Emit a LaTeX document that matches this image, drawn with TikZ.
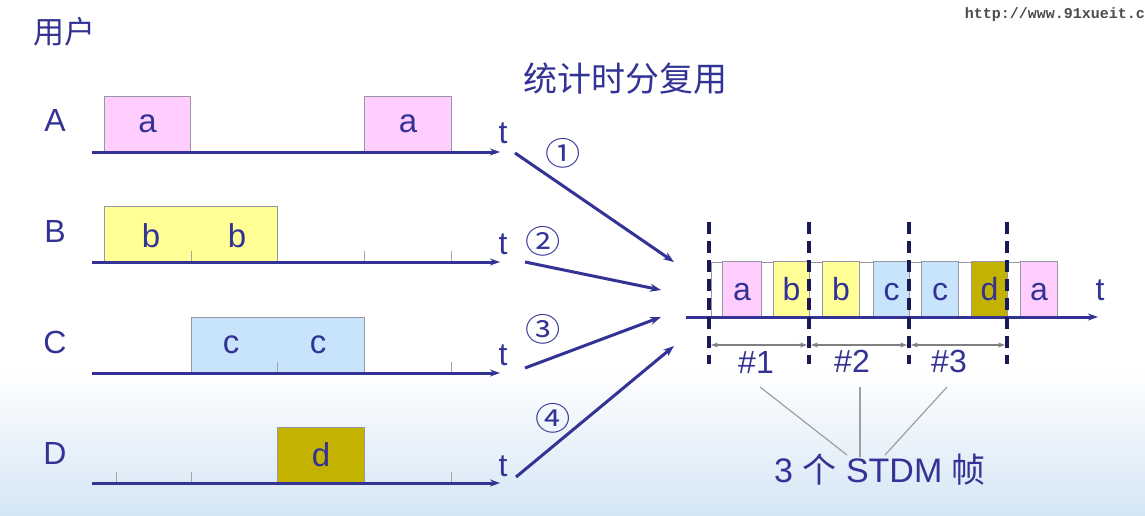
\documentclass[tikz,border=0pt]{standalone}
\usepackage{fontspec}
\setmainfont{Liberation Sans}
\newfontfamily\cjk{Noto Sans CJK SC}
\newfontfamily\monofnt{Liberation Mono}
\usetikzlibrary{arrows.meta}
\newcommand\fsz[1]{\fontsize{#1}{#1}\selectfont}
\definecolor{navy}{RGB}{51,51,150}
\definecolor{dnavy}{RGB}{25,25,85}
\definecolor{pinkf}{RGB}{255,206,255}
\definecolor{yellf}{RGB}{255,255,150}
\definecolor{bluef}{RGB}{200,228,252}
\definecolor{olivef}{RGB}{196,178,0}
\definecolor{boxline}{RGB}{150,150,165}
\definecolor{bgblue}{RGB}{212,230,245}
\tikzset{
  lbl/.style={text=navy, font=\fsz{32}, inner sep=0},
  tlbl/.style={text=navy, font=\fsz{32}, inner sep=0, anchor=base},
  slot/.style={draw=boxline, line width=1, text=navy, font=\fsz{33}, inner sep=0, anchor=south west, minimum height=55},
  pinkbox/.style={slot, fill=pinkf},
  yellbox/.style={slot, fill=yellf},
  bluebox/.style={slot, fill=bluef},
  olivebox/.style={slot, fill=olivef},
  fslot/.style={font=\fsz{32}, text height=23, text depth=0},
  axisln/.style={draw=navy, line width=3, -{Stealth[length=10pt,width=7pt]}},
  feed/.style={draw=navy, line width=3, -{Stealth[length=11pt,width=8pt]}},
  tickln/.style={draw=gray!70, line width=1},
  dashln/.style={draw=dnavy, line width=3.8, dash pattern=on 12pt off 7pt},
  dimln/.style={draw=gray, line width=1.2, {Stealth[length=7pt,width=5pt]}-{Stealth[length=7pt,width=5pt]}},
  grayln/.style={draw=gray!75, line width=1.2},
  circ/.style={text=navy, font=\cjk\fsz{32}, inner sep=0, xscale=1.1, transform shape},
}
\begin{document}
\begin{tikzpicture}[x=1pt,y=-1pt]
\useasboundingbox (0,0) rectangle (1145,516);
% background
\fill[white] (0,0) rectangle (1145,372);
\shade[top color=white, bottom color=bgblue] (0,370) rectangle (1145,516);

% watermark
\node[font=\monofnt\bfseries\fsz{15}, text=black!70, anchor=east, inner sep=0] (wm) at (1145,15) {http://www.91xueit.c};

% titles
\node[text=navy, font=\cjk\fsz{31}, inner sep=0] (users) at (64,32) {用户};
\node[text=navy, font=\cjk\fsz{34}, inner sep=0] (title) at (625,79) {统计时分复用};

% user labels
\node[lbl] (LA) at (55,120) {A};
\node[lbl] (LB) at (55,231) {B};
\node[lbl] (LC) at (55,342) {C};
\node[lbl] (LD) at (55,453) {D};

% ticks
\draw[tickln] (364,262) -- (364,251);
\draw[tickln] (451,262) -- (451,251);
\draw[tickln] (451,373) -- (451,362);
\draw[tickln] (116,483) -- (116,472);
\draw[tickln] (191,483) -- (191,472);
\draw[tickln] (451,483) -- (451,472);

% user boxes
\node[pinkbox, minimum width=86] (a1) at (104,152) {a};
\node[pinkbox, minimum width=87] (a2) at (364,152) {a};
\node[yellbox, minimum width=173] (bb) at (104,262) {};
\node[text=navy, font=\fsz{33}, inner sep=0] (b1) at (151,236) {b};
\node[text=navy, font=\fsz{33}, inner sep=0] (b2) at (237,236) {b};
\draw[tickln] (191,262) -- (191,251);
\node[bluebox, minimum width=173] (cc) at (191,373) {};
\node[text=navy, font=\fsz{33}, inner sep=0] (c1) at (231,345) {c};
\node[text=navy, font=\fsz{33}, inner sep=0] (c2) at (318,345) {c};
\draw[tickln] (277,373) -- (277,362);
\node[olivebox, minimum width=87] (d1) at (277,483) {d};

% user axes
\coordinate (A0) at (92,152);  \coordinate (A1) at (500,152);
\coordinate (B0) at (92,262);  \coordinate (B1) at (500,262);
\coordinate (C0) at (92,373);  \coordinate (C1) at (500,373);
\coordinate (D0) at (92,483);  \coordinate (D1) at (500,483);
\draw[axisln] (A0) -- (A1);
\draw[axisln] (B0) -- (B1);
\draw[axisln] (C0) -- (C1);
\draw[axisln] (D0) -- (D1);
\node[tlbl] (tA) at (503,143) {t};
\node[tlbl] (tB) at (503,254) {t};
\node[tlbl] (tC) at (503,365) {t};
\node[tlbl] (tD) at (503,476) {t};

% feed arrows
\coordinate (f1s) at (515,153); \coordinate (f1e) at (674,262);
\coordinate (f2s) at (525,262); \coordinate (f2e) at (661,290);
\coordinate (f3s) at (525,368); \coordinate (f3e) at (661,317);
\coordinate (f4s) at (516,477); \coordinate (f4e) at (674,346);
\draw[feed] (f1s) -- (f1e);
\draw[feed] (f2s) -- (f2e);
\draw[feed] (f3s) -- (f3e);
\draw[feed] (f4s) -- (f4e);
\node[circ] (n1) at (563,153) {①};
\node[circ] (n2) at (543,241) {②};
\node[circ] (n3) at (543,329) {③};
\node[circ] (n4) at (553,418) {④};

% STDM frame
\draw[draw=boxline, line width=1, fill=white] (711,262) rectangle (1057,317);
\node[pinkbox, fslot, minimum width=39] (s1) at (722,317) {a};
\node[yellbox, fslot, minimum width=36] (s2) at (773,317) {b};
\node[yellbox, fslot, minimum width=37] (s3) at (822,317) {b};
\node[bluebox, fslot, minimum width=36] (s4) at (873,317) {c};
\node[bluebox, fslot, minimum width=37] (s5) at (921,317) {c};
\node[olivebox, fslot, minimum width=36] (s6) at (971,317) {d};
\node[pinkbox, fslot, minimum width=37] (s7) at (1020,317) {a};
\coordinate (R0) at (686,317); \coordinate (R1) at (1098,317);
\draw[axisln] (R0) -- (R1);
\node[tlbl] (tR) at (1100,300) {t};

% frame boundaries
\coordinate (v1t) at (709,222); \coordinate (v1b) at (709,364);
\coordinate (v2t) at (809,222); \coordinate (v2b) at (809,364);
\coordinate (v3t) at (909,222); \coordinate (v3b) at (909,364);
\coordinate (v4t) at (1007,222); \coordinate (v4b) at (1007,364);
\draw[dashln] (v1t) -- (v1b);
\draw[dashln] (v2t) -- (v2b);
\draw[dashln] (v3t) -- (v3b);
\draw[dashln] (v4t) -- (v4b);
\coordinate (m1) at (711,345); \coordinate (m2a) at (807,345);
\coordinate (m2b) at (811,345); \coordinate (m3a) at (907,345);
\coordinate (m3b) at (911,345); \coordinate (m4) at (1005,345);
\draw[dimln] (m1) -- (m2a);
\draw[dimln] (m2b) -- (m3a);
\draw[dimln] (m3b) -- (m4);
\node[lbl] (h1) at (756,362) {\#1};
\node[lbl] (h2) at (852,361) {\#2};
\node[lbl] (h3) at (949,361) {\#3};

% STDM label
\node[text=navy, font=\fsz{34}, inner sep=0] (stdm) at (880,470) {3 {\cjk 个} STDM {\cjk 帧}};
\coordinate (g1) at (760,387); \coordinate (g1e) at (847,455);
\coordinate (g2) at (860,387); \coordinate (g2e) at (860,457);
\coordinate (g3) at (947,387); \coordinate (g3e) at (885,455);
\draw[grayln] (g1) -- (g1e);
\draw[grayln] (g2) -- (g2e);
\draw[grayln] (g3) -- (g3e);
\end{tikzpicture}
\end{document}
